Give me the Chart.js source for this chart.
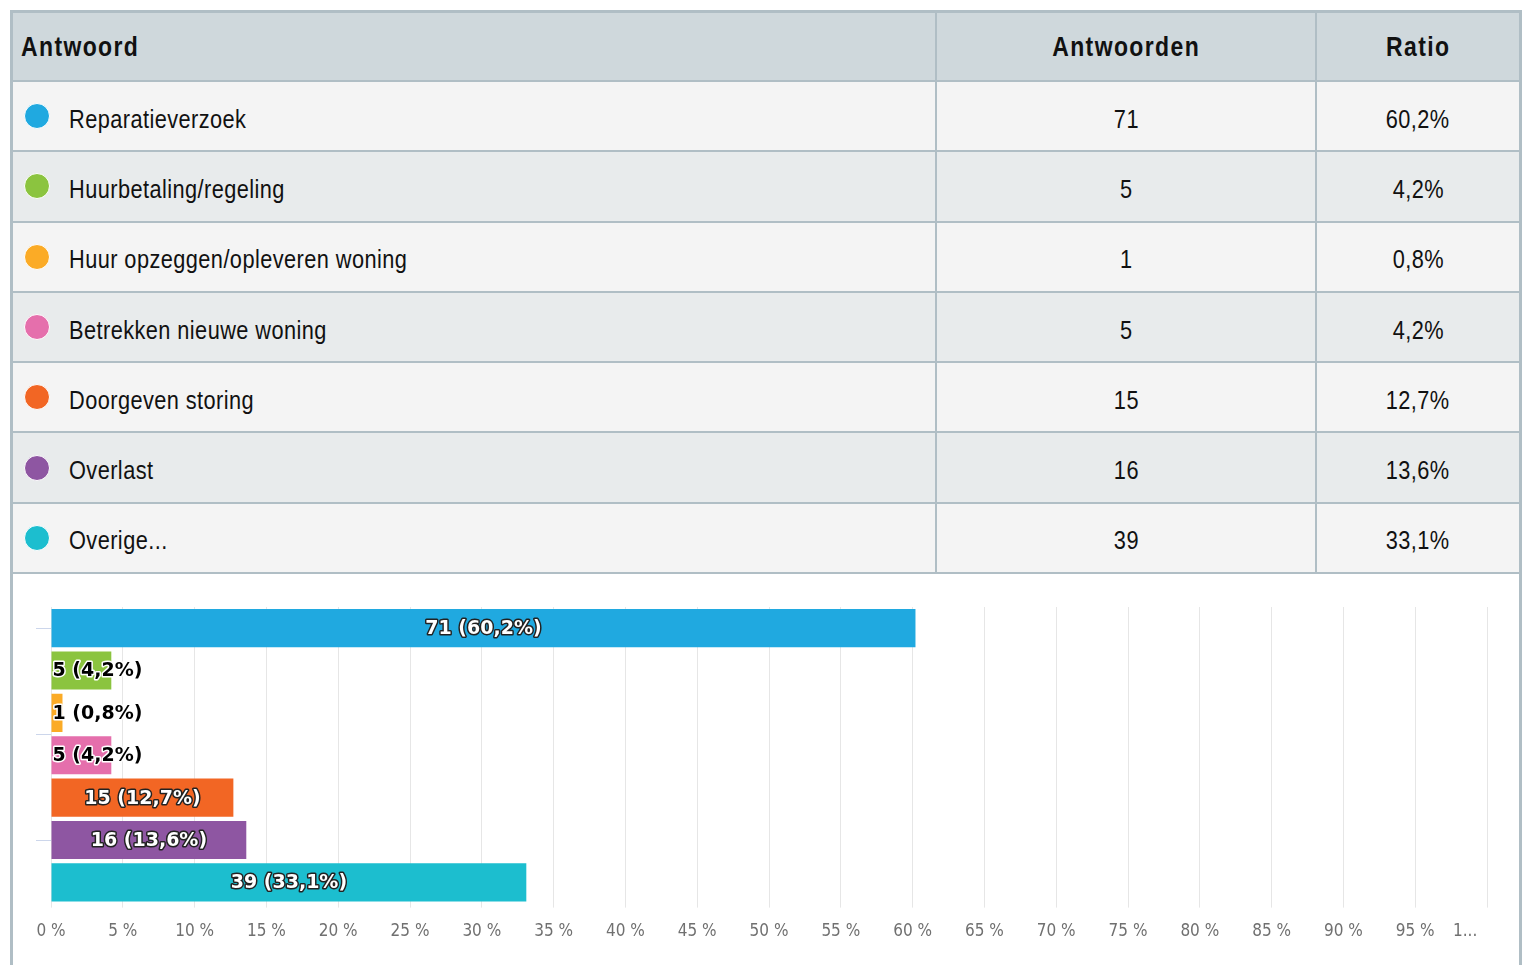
<!DOCTYPE html>
<html lang="nl">
<head>
<meta charset="utf-8">
<title>Antwoorden</title>
<script src="https://cdn.jsdelivr.net/npm/chart.js@4/dist/chart.umd.min.js"></script>
<style>
  html, body { margin: 0; padding: 0; background: #fff; }
  body { width: 1522px; height: 965px; overflow: hidden; position: relative; }
  #kader {
    position: absolute; left: 10px; top: 10px; width: 1506px; height: 1000px;
    border: 3px solid #b0bec5; border-bottom: none;
    font-family: "Liberation Sans", Arial, sans-serif;
    color: #111;
  }
  .rij { display: flex; height: 68.3px; border-bottom: 2px solid #b0bec5; }
  .kop { background: #cfd8dc; height: 67px; font-weight: bold; font-size: 28px; letter-spacing: 1.7px; }
  .rij > div { display: flex; align-items: center; box-sizing: border-box; }
  .c1 { width: 924px; border-right: 2px solid #b0bec5; padding-left: 8px; }
  .c2 { width: 380px; border-right: 2px solid #b0bec5; justify-content: center; }
  .c3 { flex: 1; justify-content: center; }
  .smal { display: inline-block; transform: scaleX(0.87); transform-origin: left center; white-space: nowrap; }
  .kop .smal { transform: scaleX(0.82); }
  .c2 .smal, .c3 .smal { transform-origin: center center; }
  .oneven { background: #f4f4f4; }
  .even { background: #e8ebec; }
  .data { font-size: 25px; letter-spacing: 0.5px; }
  .data > div { padding-top: 6px; }
  .stip {
    display: inline-block; width: 24px; height: 24px; border-radius: 50%;
    border: 1px solid #fff; margin-left: 3px; margin-right: 19px; margin-top: -6px;
  }
  #grafiek { position: absolute; left: 0; top: 563px; width: 1506px; height: 389px; }
</style>
</head>
<body>
<div id="kader">
  <div class="rij kop">
    <div class="c1"><span class="smal">Antwoord</span></div>
    <div class="c2"><span class="smal">Antwoorden</span></div>
    <div class="c3"><span class="smal">Ratio</span></div>
  </div>
  <div id="rijen"></div>
  <div id="grafiek"><canvas id="grafiekCanvas"></canvas></div>
</div>
<script>
const antwoorden = [
  "Reparatieverzoek",
  "Huurbetaling/regeling",
  "Huur opzeggen/opleveren woning",
  "Betrekken nieuwe woning",
  "Doorgeven storing",
  "Overlast",
  "Overige...",
];
const aantallen = [71, 5, 1, 5, 15, 16, 39];
const ratios = [60.2, 4.2, 0.8, 4.2, 12.7, 13.6, 33.1];
const kleuren = ["#20a9e0", "#8bc43f", "#fbab26", "#e56fac", "#f26624", "#8e56a2", "#1cbecf"];
const procentTicks = [0, 5, 10, 15, 20, 25, 30, 35, 40, 45, 50, 55, 60, 65, 70, 75, 80, 85, 90, 95, 100];
const yMarkeringen = [0, 2.5, 5];

function formatRatio(r) {
  return r.toFixed(1).replace(".", ",") + "%";
}

function vulTabel() {
  let rijen = document.querySelector("#rijen");
  rijen.innerHTML = "";
  antwoorden.forEach((naam, i) => {
    let rij = document.createElement("div");
    rij.className = "rij data " + (i % 2 === 0 ? "oneven" : "even");
    rij.innerHTML = `
      <div class="c1"><span class="stip" style="background:${kleuren[i]}"></span><span class="smal">${naam}</span></div>
      <div class="c2"><span class="smal">${aantallen[i]}</span></div>
      <div class="c3"><span class="smal">${formatRatio(ratios[i])}</span></div>
    `;
    rijen.appendChild(rij);
  });
}

// korte streepjes links van de balken (via de y-schaal)
const yStreepjes = {
  id: "yStreepjes",
  afterDraw(chart) {
    let ctx = chart.ctx;
    let y = chart.scales.y;
    let links = chart.chartArea.left;
    ctx.save();
    ctx.strokeStyle = "#ccd6eb";
    ctx.lineWidth = 1;
    yMarkeringen.forEach((v) => {
      let py = Math.round(y.getPixelForValue(v)) + 0.5;
      ctx.beginPath();
      ctx.moveTo(links - 15, py);
      ctx.lineTo(links, py);
      ctx.stroke();
    });
    ctx.restore();
  },
};

// labels in/naast de balken, zoals in het origineel
const balkLabels = {
  id: "balkLabels",
  afterDatasetsDraw(chart) {
    let ctx = chart.ctx;
    let meta = chart.getDatasetMeta(0);
    ctx.save();
    ctx.font = "bold 19px 'DejaVu Sans'";
    ctx.textBaseline = "middle";
    ctx.lineJoin = "round";
    meta.data.forEach((bar, i) => {
      let tekst = `${aantallen[i]} (${formatRatio(ratios[i])})`;
      let breedte = ctx.measureText(tekst).width;
      let links = Math.min(bar.x, bar.base);
      let balkBreedte = Math.abs(bar.x - bar.base);
      let x, vul, rand;
      if (breedte + 10 < balkBreedte) {
        ctx.textAlign = "center";
        x = links + balkBreedte / 2;
        vul = "#fff";
        rand = "#222";
      } else {
        ctx.textAlign = "left";
        x = links + 1;
        vul = "#000";
        rand = "#fff";
      }
      ctx.lineWidth = 3;
      ctx.strokeStyle = rand;
      ctx.strokeText(tekst, x, bar.y + 1);
      ctx.fillStyle = vul;
      ctx.fillText(tekst, x, bar.y + 1);
    });
    ctx.restore();
  },
};

function tekenGrafiek() {
  let ctx = document.getElementById("grafiekCanvas").getContext("2d");
  window.grafiek = new Chart(ctx, {
    type: "bar",
    data: {
      labels: antwoorden,
      datasets: [
        {
          data: ratios,
          backgroundColor: kleuren,
          borderWidth: 0,
          categoryPercentage: 0.9,
          barPercentage: 1,
        },
      ],
    },
    options: {
      indexAxis: "y",
      responsive: true,
      maintainAspectRatio: false,
      animation: false,
      layout: { padding: { left: 38, right: 32, top: 31, bottom: 9 } },
      plugins: {
        legend: { display: false },
        tooltip: { enabled: false },
      },
      scales: {
        x: {
          min: 0,
          max: 100,
          afterBuildTicks: (scale) => {
            scale.ticks = procentTicks.map((v) => ({ value: v }));
          },
          afterFit: (scale) => {
            scale.paddingRight = 0;
          },
          ticks: {
            autoSkip: false,
            maxRotation: 0,
            padding: 14,
            color: "#707070",
            font: { family: "'DejaVu Sans Condensed'", size: 17 },
            // laatste label is in het origineel afgekapt en naar links geschoven
            callback: (v) => (v === 100 ? "1...         " : v + " %"),
          },
          grid: { color: "#e6e6e6", tickLength: 4 },
          border: { display: false },
        },
        y: {
          display: false,
        },
      },
    },
    plugins: [balkLabels, yStreepjes],
  });
}

vulTabel();
tekenGrafiek();
</script>
</body>
</html>
